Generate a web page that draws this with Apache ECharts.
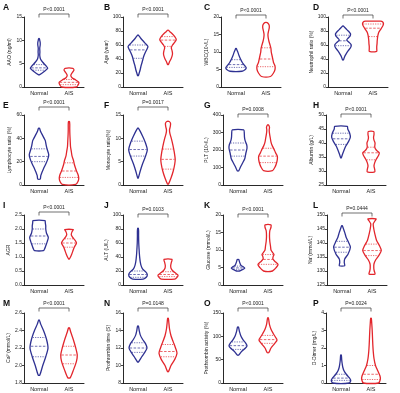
<!DOCTYPE html>
<html><head><meta charset="utf-8">
<script src="https://cdn.jsdelivr.net/npm/echarts@6/dist/echarts.min.js"></script>
<style>html,body{margin:0;padding:0;background:#fff}#c{width:400px;height:393px}</style>
</head><body><div id="c"></div>
<script>
// ---------- DATA ----------
const categories = ['Normal', 'AIS'];
const panelLetters = ['A','B','C','D','E','F','G','H','I','J','K','L','M','N','O','P'];
const yTitles = ['AAO (ng/ml)','Age (year)','WBC(10\u2079/L)','Neutrophil ratio (%)',
  'Lymphocyte ratio (%)','Monocyte ratio(%)','PLT (10\u2079/L)','Albumin (g/L)',
  'AGR','ALT (U/L)','Glucose (mmol/L)','Na\u207A(mmol/L)',
  'Ca\u00B2\u207A(mmol/L)','Prothrombin time (S)','Prothrombin activity (%)','D-Dimer (mg/L)'];
const yMin  = [0, 0, 0, 0,   0, 0, 0, 25,   0, 0, 0, 125,   1.8, 8, 0, 0];
const yMax  = [15,100,20,100, 60,15,400,50,  2.5,100,20,150,  2.6,16,150,4];
const yStep = [5, 20, 5, 20,  20, 5,100, 5,  0.5, 20, 5, 5,   0.2, 2, 50, 1];
const pValues = ['P<0.0001','P<0.0001','P<0.0001','P<0.0001',
  'P<0.0001','P=0.0017','P=0.0008','P<0.0001',
  'P<0.0001','P=0.0103','P<0.0001','P=0.0444',
  'P<0.0001','P=0.0148','P<0.0001','P=0.0024'];

// violin outlines: [value, relative half width]
const normalProfiles = [
  [[2.6,0.02],[3.2,0.3],[4.0,0.58],[4.6,0.45],[5.3,0.25],[6.0,0.1],[6.8,0.05],[7.5,0.06],[8.3,0.05],[9.0,0.08],[9.5,0.08],[10.0,0.05],[10.4,0.02]],
  [[16,0.02],[20,0.08],[25,0.15],[30,0.2],[35,0.27],[40,0.33],[45,0.4],[50,0.5],[55,0.62],[58,0.66],[62,0.5],[66,0.33],[70,0.17],[74,0.03]],
  [[4.5,0.4],[5.0,0.62],[5.5,0.68],[6.0,0.6],[6.5,0.5],[7.0,0.42],[8.0,0.3],[9.0,0.2],[10.0,0.12],[10.6,0.06],[11,0.02]],
  [[38.7,0.03],[43,0.1],[47,0.2],[52,0.35],[56,0.5],[60,0.55],[64,0.4],[67,0.25],[70,0.35],[73,0.48],[76,0.5],[79,0.4],[82,0.25],[85,0.12],[87,0.03]],
  [[5,0.08],[8,0.12],[11,0.2],[14,0.3],[18,0.45],[22,0.58],[26,0.65],[30,0.56],[34,0.48],[38,0.42],[41,0.3],[44,0.18],[46,0.1],[48.7,0.03]],
  [[1.5,0.02],[3,0.15],[4.5,0.3],[6,0.48],[7.5,0.62],[9,0.5],[10.5,0.3],[11.5,0.15],[12.2,0.02]],
  [[81,0.05],[100,0.15],[120,0.27],[150,0.45],[180,0.52],[210,0.6],[230,0.58],[255,0.47],[275,0.43],[295,0.42],[315,0.38]],
  [[34.7,0.02],[36,0.1],[37.7,0.22],[39,0.33],[40.5,0.5],[42,0.62],[43.5,0.58],[45,0.45],[45.9,0.42]],
  [[1.23,0.3],[1.3,0.38],[1.4,0.45],[1.55,0.55],[1.7,0.62],[1.85,0.5],[2.0,0.45],[2.12,0.45],[2.22,0.42],[2.3,0.4]],
  [[8.5,0.35],[11,0.55],[15,0.62],[19,0.5],[23,0.3],[28,0.2],[33,0.15],[38,0.12],[45,0.09],[52,0.07],[60,0.05],[70,0.04],[77,0.04],[81,0.02]],
  [[4.0,0.1],[4.4,0.3],[4.8,0.45],[5.2,0.35],[5.6,0.2],[6.0,0.15],[6.6,0.1],[7.3,0.05]],
  [[131.9,0.18],[133,0.15],[134.3,0.18],[136,0.4],[138.5,0.56],[140.2,0.44],[142,0.28],[143.8,0.18],[145,0.1],[146.2,0.02]],
  [[1.89,0.05],[2.0,0.25],[2.1,0.45],[2.2,0.6],[2.3,0.5],[2.4,0.3],[2.47,0.12],[2.52,0.02]],
  [[10.4,0.03],[11,0.25],[11.5,0.45],[12,0.6],[12.5,0.5],[13,0.3],[13.5,0.15],[14,0.08],[14.5,0.03]],
  [[60,0.05],[68,0.25],[75,0.5],[80,0.6],[86,0.5],[92,0.35],[100,0.2],[110,0.1],[120,0.03]],
  [[0,0.55],[0.15,0.65],[0.3,0.55],[0.5,0.35],[0.7,0.2],[0.9,0.12],[1.1,0.08],[1.3,0.05],[1.6,0.02]]
];
const aisProfiles = [
  [[0,0.5],[0.5,0.62],[1.0,0.66],[1.5,0.45],[2.0,0.2],[2.5,0.12],[3.0,0.2],[3.6,0.33],[4.0,0.25]],
  [[32,0.02],[36,0.1],[40,0.2],[44,0.27],[48,0.3],[52,0.27],[56,0.22],[60,0.3],[64,0.45],[68,0.55],[72,0.45],[76,0.28],[79,0.12],[81,0.03]],
  [[3.0,0.3],[4.0,0.5],[5.0,0.6],[6.0,0.6],[7.0,0.5],[8.0,0.45],[9.0,0.4],[10.0,0.35],[11.0,0.33],[12.0,0.27],[13.0,0.2],[14.0,0.15],[15.0,0.13],[16.0,0.17],[17.0,0.22],[17.8,0.2],[18.4,0.08]],
  [[51,0.25],[54,0.25],[58,0.25],[62,0.27],[66,0.28],[70,0.3],[74,0.33],[78,0.38],[82,0.5],[86,0.62],[90,0.7],[93,0.65],[94,0.5]],
  [[0.5,0.45],[3,0.6],[6,0.65],[9,0.6],[12,0.5],[15,0.42],[18,0.35],[21,0.3],[25,0.2],[29,0.15],[33,0.1],[38,0.08],[43,0.06],[48,0.05],[52,0.05],[54.5,0.03]],
  [[0.2,0.03],[1.5,0.2],[3,0.35],[4.5,0.45],[5.5,0.48],[7,0.42],[8.5,0.33],[10,0.22],[11,0.13],[11.8,0.1],[12.5,0.15],[13.2,0.17],[13.6,0.08]],
  [[82,0.3],[100,0.45],[120,0.55],[145,0.62],[165,0.62],[185,0.5],[205,0.4],[225,0.28],[245,0.2],[270,0.15],[295,0.1],[315,0.08],[330,0.1],[344,0.03]],
  [[29.7,0.25],[30.5,0.25],[31.8,0.2],[33,0.25],[34.2,0.35],[35.5,0.5],[36.5,0.55],[37.5,0.35],[38.5,0.25],[40,0.27],[41,0.2],[42,0.17],[43,0.2],[44.1,0.18]],
  [[0.93,0.02],[1.0,0.1],[1.1,0.18],[1.2,0.25],[1.35,0.35],[1.5,0.5],[1.6,0.4],[1.7,0.25],[1.8,0.15],[1.9,0.2],[1.98,0.28]],
  [[8.5,0.45],[11,0.6],[14,0.67],[17,0.5],[20,0.33],[24,0.2],[28,0.18],[32,0.22],[36.6,0.27]],
  [[4.0,0.3],[5.0,0.55],[5.9,0.67],[6.8,0.45],[7.5,0.32],[8.2,0.35],[8.7,0.4],[9.3,0.3],[10,0.2],[11,0.17],[12.5,0.12],[14,0.1],[15.5,0.12],[16.5,0.2],[17.2,0.2]],
  [[128.9,0.2],[130,0.15],[131,0.12],[132.5,0.13],[134,0.25],[135.5,0.45],[137.3,0.62],[139,0.5],[141,0.3],[143,0.2],[145,0.12],[146.8,0.08],[147.5,0.15],[148.6,0.27]],
  [[1.86,0.08],[1.95,0.3],[2.05,0.5],[2.12,0.55],[2.2,0.45],[2.3,0.28],[2.38,0.12],[2.43,0.03]],
  [[9.3,0.03],[10,0.2],[10.7,0.45],[11.4,0.6],[12,0.5],[12.7,0.35],[13.4,0.2],[14.2,0.1],[15,0.05],[15.4,0.02]],
  [[65,0.05],[75,0.2],[85,0.45],[92,0.6],[98,0.5],[106,0.35],[115,0.2],[125,0.1],[135,0.05],[140,0.02]],
  [[0,0.5],[0.2,0.62],[0.4,0.6],[0.7,0.45],[1.0,0.3],[1.4,0.2],[1.8,0.15],[2.2,0.12],[2.6,0.1],[3.0,0.08],[3.4,0.05],[3.7,0.02]]
];
// [Q1, median, Q3]
const normalQuartiles = [[3.6,4.1,4.8],[41,53,60],[5.6,6.4,7.8],[59,66,74],[20,24.5,31],[6.2,7.6,9.4],[165,200,240],[39.5,41.5,43.5],
  [1.47,1.75,2.0],[11,15,20],[4.5,4.9,5.4],[136.7,138.5,140.6],[2.1,2.22,2.32],[11.5,12,12.6],[72,80,88],[0.15,0.28,0.5]];
const aisQuartiles = [[0.5,1.0,1.6],[58,67,72],[5.8,8.0,11.2],[72,84,90],[6.5,12,19],[3.4,5.5,7.7],[128,165,210],[34,36.5,38.5],
  [1.35,1.5,1.65],[12,15,19],[5.9,7.3,8.7],[135.5,137.3,139.6],[2.02,2.12,2.22],[11,11.6,12.4],[85,93,102],[0.2,0.5,1.0]];

// ---------- LAYOUT / STYLE ----------
const BLUE = '#2e3192', RED = '#e3262c';
const FONT = 'Liberation Sans, Arial, sans-serif';
const gridLeft = [24,123,221,328, 24,123,223,326, 24,123,223,327, 24,123,223,326];
const rowTop = [17,115,215,313];
const letterX = [3,104,204,313];
const gridW = 60, gridH = 70;
const bracketOffset = [3,3,2,2, 8,8,1,1, 3,1,1,2, 5,5,5,5];
const nameGaps = [8.5,10.5,9,11, 9,9,10.5,9, 9.5,10.5,9,10.5, 9.5,9,10.5,8];

function widthAt(prof, v){
  if (v <= prof[0][0]) return prof[0][1];
  for (let i=1;i<prof.length;i++){
    if (v <= prof[i][0]){
      const a=prof[i-1], b=prof[i];
      return a[1] + (b[1]-a[1])*(v-a[0])/(b[0]-a[0]);
    }
  }
  return prof[prof.length-1][1];
}

function violinRender(pi){
  return function(params, api){
    const gi = api.value(0);
    const prof = gi===0 ? normalProfiles[pi] : aisProfiles[pi];
    const qs = gi===0 ? normalQuartiles[pi] : aisQuartiles[pi];
    const color = gi===0 ? BLUE : RED;
    const cx = api.coord([gi, yMin[pi]])[0];
    const hb = api.size([1,0])[0]/2;
    const right = prof.map(p => [cx + p[1]*hb, api.coord([gi,p[0]])[1]]);
    const left = prof.slice().reverse().map(p => [cx - p[1]*hb, api.coord([gi,p[0]])[1]]);
    const children = [{type:'polygon', shape:{points:right.concat(left), smooth:0.25},
      style:{fill:'none', stroke:color, lineWidth:1.3}}];
    qs.forEach((q,k)=>{
      const w = widthAt(prof,q)*hb - 0.6;
      const y = api.coord([gi,q])[1];
      children.push({type:'line', shape:{x1:cx-w,y1:y,x2:cx+w,y2:y},
        style:{stroke:color, lineWidth:0.7, lineDash:k===1?[2.5,1.5]:[1.2,1.2]}});
    });
    return {type:'group', children};
  };
}

function bracketRender(pi){
  return function(params, api){
    const x0 = api.coord([0, yMax[pi]])[0];
    const x1 = api.coord([1, yMax[pi]])[0];
    const top = params.coordSys.y;
    const yb = top - bracketOffset[pi];
    return {type:'group', children:[
      {type:'polyline', shape:{points:[[x0,yb+3.5],[x0,yb],[x1,yb],[x1,yb+3.5]]},
        style:{fill:'none', stroke:'#333', lineWidth:0.7}},
      {type:'text', style:{x:(x0+x1)/2, y:yb-1.5, text:pValues[pi], fill:'#222',
        font:'5px '+FONT, textAlign:'center', textVerticalAlign:'bottom'}}
    ]};
  };
}

const grids=[], xAxes=[], yAxes=[], series=[], graphics=[];
for (let i=0;i<16;i++){
  const r = Math.floor(i/4), c = i%4;
  grids.push({left:gridLeft[i], top:rowTop[r], width:gridW, height:gridH});
  xAxes.push({gridIndex:i, type:'category', data:categories, boundaryGap:true,
    axisLine:{lineStyle:{color:'#111', width:0.9}},
    axisTick:{alignWithLabel:true, length:2, lineStyle:{color:'#111', width:0.8}},
    axisLabel:{fontSize:5.5, color:'#222', margin:3, fontFamily:FONT}});
  const dec = yStep[i] < 1;
  yAxes.push({gridIndex:i, type:'value', min:yMin[i], max:yMax[i], interval:yStep[i],
    name:yTitles[i], nameLocation:'middle', nameGap:nameGaps[i],
    nameTextStyle:{fontSize:5, color:'#222', fontFamily:FONT},
    axisLine:{show:true, lineStyle:{color:'#111', width:0.9}},
    axisTick:{show:true, length:2, lineStyle:{color:'#111', width:0.8}},
    splitLine:{show:false},
    axisLabel:{fontSize:5, color:'#222', margin:2, fontFamily:FONT,
      formatter: v => dec ? (+v).toFixed(1) : String(Math.round(v))}});
  series.push({type:'custom', xAxisIndex:i, yAxisIndex:i, renderItem:violinRender(i),
    encode:{x:0, y:1}, data:[[0, yMin[i]],[1, yMin[i]]], silent:true, animation:false});
  series.push({type:'custom', xAxisIndex:i, yAxisIndex:i, renderItem:bracketRender(i),
    encode:{x:0, y:1}, data:[[0, yMin[i]]], silent:true, animation:false});
  graphics.push({type:'text', left:letterX[c], top:rowTop[r]-14,
    style:{text:panelLetters[i], font:'bold 8.5px '+FONT, fill:'#111'}});
}

const chart = echarts.init(document.getElementById('c'), null, {renderer:'canvas'});
chart.setOption({animation:false, backgroundColor:'#fff', grid:grids, xAxis:xAxes, yAxis:yAxes,
  series:series, graphic:graphics});
</script></body></html>
